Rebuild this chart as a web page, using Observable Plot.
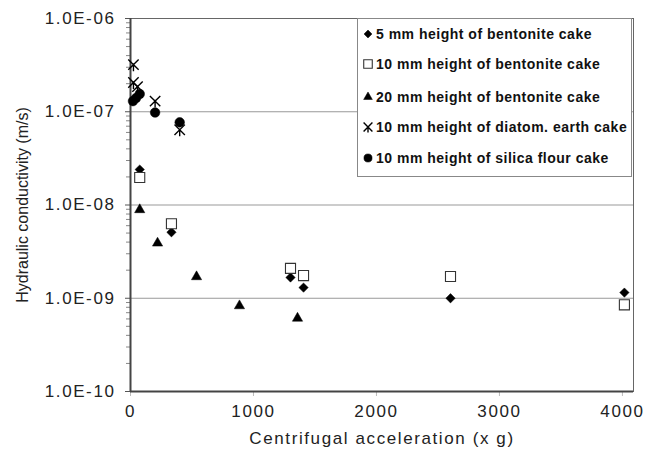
<!DOCTYPE html>
<html>
<head>
<meta charset="utf-8">
<script src="https://cdn.jsdelivr.net/npm/d3@7"></script>
<script src="https://cdn.jsdelivr.net/npm/@observablehq/plot@0.6"></script>
<style>
  html, body { margin: 0; padding: 0; background: #fff; }
  #wrap { position: relative; width: 646px; height: 462px; font-family: "Liberation Sans", Arial, sans-serif; }
  #legend { position: absolute; left: 357px; top: 18px; width: 275px; height: 159px; background: #fff; border: 1px solid #888; box-sizing: border-box; }
  .row { position: absolute; left: 0; height: 20px; display: flex; align-items: center; font-size: 14px; font-weight: bold; letter-spacing: 0.5px; color: #111; white-space: nowrap; }
  .row svg { margin-left: 3px; margin-right: 1px; }
</style>
</head>
<body>
<div id="wrap"></div>
<script>
// ---- data ----
const seriesNames = [
  "5 mm height of bentonite cake",
  "10 mm height of bentonite cake",
  "20 mm height of bentonite cake",
  "10 mm height of diatom. earth cake",
  "10 mm height of silica flour cake"
];
const accel5mm = [75, 333, 1301, 1407, 2602, 4016];
const k5mm     = [2.4e-8, 5.1e-9, 1.67e-9, 1.30e-9, 1.0e-9, 1.15e-9];
const accel10mm = [75, 333, 1301, 1407, 2602, 4016];
const k10mm     = [1.97e-8, 6.3e-9, 2.09e-9, 1.75e-9, 1.71e-9, 8.5e-10];
const accel20mm = [75, 220, 537, 886, 1358];
const k20mm     = [8.9e-9, 3.9e-9, 1.7e-9, 8.3e-10, 6.1e-10];
const accelDiatom = [24, 24, 57, 200, 400];
const kDiatom     = [3.2e-7, 2.06e-7, 1.86e-7, 1.3e-7, 6.4e-8];
const accelSilica = [20, 45, 75, 200, 400];
const kSilica     = [1.3e-7, 1.4e-7, 1.55e-7, 9.8e-8, 7.7e-8];
const xTicks = [0, 1000, 2000, 3000, 4000];
const yTicks = [1e-10, 1e-9, 1e-8, 1e-7, 1e-6];
const xTitle = "Centrifugal acceleration (x g)";
const yTitle = "Hydraulic conductivity (m/s)";

const zip = (xs, ys) => xs.map((x, i) => ({x, y: ys[i]}));

// custom asterisk symbol: X with vertical bar
const starX = {
  draw(ctx, size) {
    const r = Math.sqrt(size / Math.PI);
    const d = r * 0.8;
    ctx.moveTo(-d, -d); ctx.lineTo(d, d);
    ctx.moveTo(d, -d); ctx.lineTo(-d, d);
    ctx.moveTo(0, -r * 0.2); ctx.lineTo(0, r);
  }
};

const styles = [
  {symbol: "diamond2", fill: "#000", stroke: "#000", r: 4.2, sw: 0.5},
  {symbol: "square2", fill: "#fff", stroke: "#333", r: 6.4, sw: 1.1},
  {symbol: "triangle", fill: "#000", stroke: "#000", r: 3.8, sw: 0.5},
  {symbol: starX, fill: "none", stroke: "#000", r: 6.5, sw: 1.4},
  {symbol: "circle", fill: "#000", stroke: "#000", r: 4.8, sw: 0.5}
];
const datasets = [
  zip(accel5mm, k5mm),
  zip(accel10mm, k10mm),
  zip(accel20mm, k20mm),
  zip(accelDiatom, kDiatom),
  zip(accelSilica, kSilica)
];

const fmtE = d => {
  const [m, e] = d.toExponential(1).split("e");
  const n = Math.abs(+e);
  return `${m}E${+e < 0 ? "-" : "+"}${String(n).padStart(2, "0")}`;
};
const minorTicks = d3.scaleLog().domain([1e-10, 1e-6]).ticks().filter(t => !yTicks.some(m => Math.abs(m - t) / m < 1e-9));

const chart = Plot.plot({
  width: 646,
  height: 462,
  marginLeft: 130,
  marginTop: 18,
  marginRight: 13,
  marginBottom: 71,
  style: {fontFamily: "'Liberation Sans', Arial, sans-serif", fontSize: "16px", color: "#222", background: "#fff"},
  x: {domain: [0, 4090]},
  y: {type: "log", domain: [1e-10, 1e-6]},
  marks: [
    Plot.gridY(yTicks, {stroke: "#999", strokeOpacity: 1, strokeWidth: 1}),
    Plot.axisY(minorTicks, {tickSize: 4, text: null, stroke: "#888", label: null}),
    Plot.axisY(yTicks, {tickSize: 5, tickPadding: 10, stroke: "#555", tickFormat: fmtE, fontSize: 16,
      label: yTitle, labelAnchor: "center", labelArrow: "none", labelOffset: 114}),
    Plot.axisX(xTicks, {tickSize: 5, tickPadding: 8, stroke: "#bbb", fontSize: 17, tickFormat: d => String(d),
      label: xTitle, labelAnchor: "center", labelArrow: "none", labelOffset: 52}),
    Plot.frame({stroke: "#666", strokeWidth: 1}),
    Plot.ruleX([0], {stroke: "#444", strokeWidth: 2}),
    Plot.ruleY([1e-10], {stroke: "#444", strokeWidth: 2}),
    ...datasets.map((data, i) => Plot.dot(data, {
      x: "x", y: "y", symbol: () => styles[i].symbol, r: styles[i].r,
      fill: styles[i].fill, stroke: styles[i].stroke, strokeWidth: styles[i].sw
    }))
  ]
});

// widen the axis texts (the reference font is horizontally stretched)
chart.querySelectorAll('g[aria-label="y-axis tick label"]').forEach(g => {
  g.setAttribute("font-size", "17");
  g.querySelectorAll("text").forEach(t => t.setAttribute("letter-spacing", "1.6"));
});
chart.querySelectorAll('g[aria-label="x-axis tick label"] text, g[aria-label="x-axis label"] text')
  .forEach(t => t.setAttribute("letter-spacing", "1.6"));

const wrap = document.getElementById("wrap");
wrap.appendChild(chart);

// legend overlay
const legend = document.createElement("div");
legend.id = "legend";
const rowTops = [5, 35, 68, 98, 129];
seriesNames.forEach((name, i) => {
  const row = document.createElement("div");
  row.className = "row";
  row.style.top = rowTops[i] + "px";
  const s = styles[i];
  const svg = d3.create("svg").attr("width", 14).attr("height", 16);
  const symObj = {
    diamond2: d3.symbolDiamond2, square2: d3.symbolSquare2, triangle: d3.symbolTriangle, circle: d3.symbolCircle
  }[s.symbol] || s.symbol;
  const rr = s.r * 0.85;
  svg.append("path")
    .attr("transform", "translate(7,8)")
    .attr("d", d3.symbol(symObj, Math.PI * rr * rr)())
    .attr("fill", s.fill).attr("stroke", s.stroke).attr("stroke-width", s.sw);
  row.appendChild(svg.node());
  const span = document.createElement("span");
  span.textContent = name;
  row.appendChild(span);
  legend.appendChild(row);
});
wrap.appendChild(legend);
</script>
</body>
</html>
